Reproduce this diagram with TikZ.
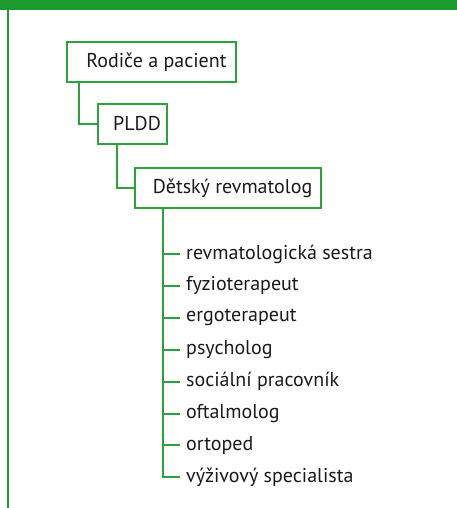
\documentclass[tikz,border=0pt]{standalone}
\usepackage{fontspec}
\setmainfont{PT Sans}
\definecolor{hdrgreen}{HTML}{1C9A2E}
\definecolor{linegreen}{HTML}{2BA33C}
\definecolor{txt}{HTML}{1A1A1A}
\begin{document}
\begin{tikzpicture}[x=1pt,y=-1pt,
  box/.style={draw=linegreen,line width=2pt,fill=white,inner sep=0pt,
    minimum height=40pt,anchor=west,font=\fontsize{20}{24}\selectfont,text=txt,align=left},
  item/.style={anchor=west,inner sep=0pt,font=\fontsize{20}{24}\selectfont,text=txt},
  conn/.style={draw=linegreen,line width=2pt}]
\useasboundingbox (0,0) rectangle (457,508);
\fill[hdrgreen] (0,0) rectangle (457,10);
\draw[hdrgreen,line width=2pt] (8,10) -- (8,508);
\node[box,minimum width=169pt] (a) at (66,62) {\hspace*{10pt}Rodiče a pacient};
\node[box,minimum width=69pt] (b) at (97,124) {\hspace*{9pt}PLDD};
\node[box,minimum width=186pt] (c) at (134,188) {\hspace*{9pt}Dětský revmatolog};
\draw[conn] (a.south west) ++(13,0) coordinate (a1) |- (b.west);
\draw[conn] (b.south west) ++(20,0) coordinate (b1) |- (c.west);
\coordinate (c1) at ([xshift=29pt]c.south west);
\foreach \t [count=\i from 0] in {revmatologická sestra,fyzioterapeut,ergoterapeut,psycholog,sociální pracovník,oftalmolog,ortoped,výživový specialista}{
  \node[item] (i\i) at (186,{254+31.9*\i}) {\t};
  \coordinate (t\i) at (180,{254+31.9*\i});
}
\draw[conn] (c1) |- (t7);
\foreach \i in {0,...,6}{ \draw[conn] (c1 |- t\i) -- (t\i); }
\end{tikzpicture}
\end{document}
